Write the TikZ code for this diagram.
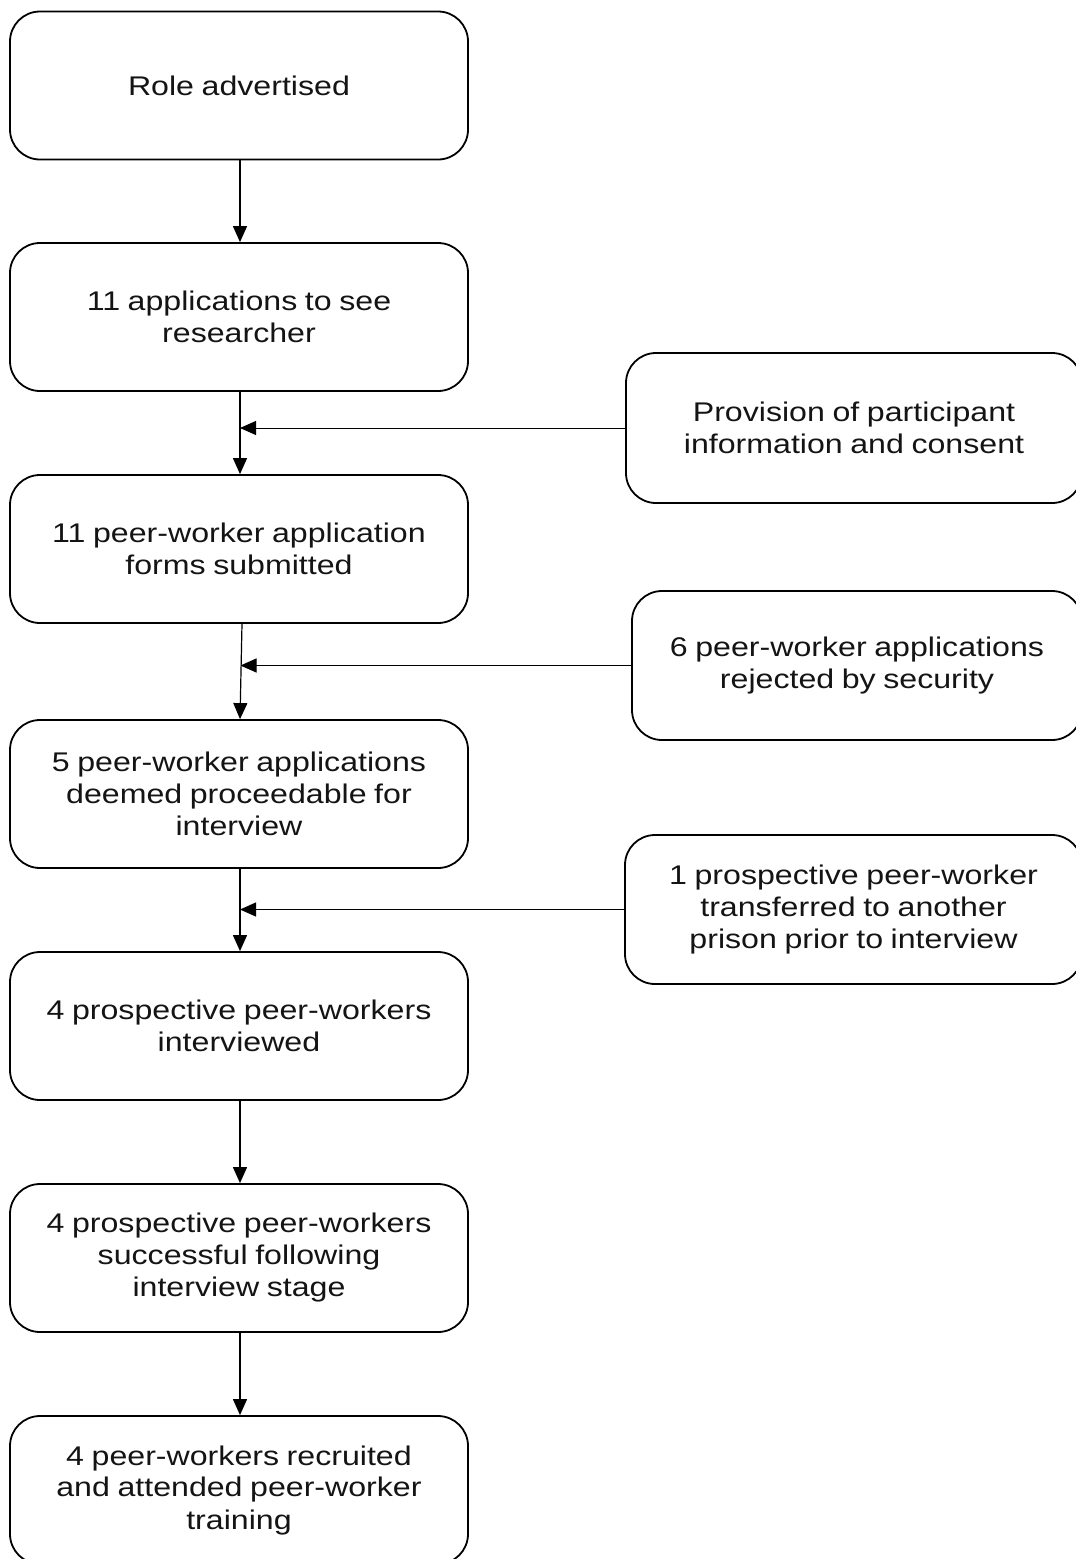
\documentclass[tikz,border=0pt]{standalone}
\usepackage{fontspec}
\setmainfont{Liberation Sans}[FakeStretch=1.19, WordSpace=0.85]
\usetikzlibrary{arrows.meta,calc}
\tikzset{
  box/.style={draw=black, line width=1.8pt, rounded corners=30pt, fill=white,
    minimum height=148pt, align=center, inner sep=2pt,
    font=\fontsize{27}{32}\selectfont, text=black!92},
  mainbox/.style={box, minimum width=458pt},
  flow/.style={line width=1.2pt, -{Triangle[length=16pt,width=14pt]}},
  feed/.style={line width=1pt, -{Triangle[length=16pt,width=14pt]}}
}
\begin{document}
\begin{tikzpicture}[x=1pt,y=-1pt]
  \useasboundingbox (0,0) rectangle (1076,1559);
  \clip (0,0) rectangle (1076,1559);

  % main sequence
  \node[mainbox] (b1) at (239,85.5) {Role advertised};
  \node[mainbox] (b2) at (239,317) {11 applications to see\\researcher};
  \node[mainbox] (b3) at (239,549) {11 peer-worker application\\forms submitted};
  \node[mainbox] (b4) at (239,794) {5 peer-worker applications\\deemed proceedable for\\interview};
  \node[mainbox] (b5) at (239,1026) {4 prospective peer-workers\\interviewed};
  \node[mainbox] (b6) at (239,1258) {4 prospective peer-workers\\successful following\\interview stage};
  \node[mainbox] (b7) at (239,1490) {4 peer-workers recruited\\and attended peer-worker\\training};

  % side boxes
  \node[box, minimum width=456pt, minimum height=150pt] (r1) at (854,428) {Provision of participant\\information and consent};
  \node[box, minimum width=450pt, minimum height=149pt] (r2) at (857,665.5) {6 peer-worker applications\\rejected by security};
  \node[box, minimum width=457pt, minimum height=149pt] (r3) at (853.5,909.5) {1 prospective peer-worker\\transferred to another\\prison prior to interview};

  % join points on the main line
  \coordinate (j1) at ($(r1.west -| b2.south)+(1,0)$);
  \coordinate (j2) at ($(r2.west -| b3.south)+(1.5,0)$);
  \coordinate (j3) at ($(r3.west -| b4.south)+(1,0)$);

  % connectors
  \draw[flow] ([xshift=1pt]b1.south) -- ([xshift=1pt]b2.north);
  \draw[flow] ([xshift=1pt]b2.south) -- ([xshift=1pt]b3.north);
  \draw[flow] ([xshift=3pt]b3.south) -- ([xshift=1pt]b4.north);
  \draw[flow] ([xshift=1pt]b4.south) -- ([xshift=1pt]b5.north);
  \draw[flow] ([xshift=1pt]b5.south) -- ([xshift=1pt]b6.north);
  \draw[flow] ([xshift=1pt]b6.south) -- ([xshift=1pt]b7.north);

  \draw[feed] (r1.west) -- (j1);
  \draw[feed] (r2.west) -- (j2);
  \draw[feed] (r3.west) -- (j3);
\end{tikzpicture}
\end{document}
